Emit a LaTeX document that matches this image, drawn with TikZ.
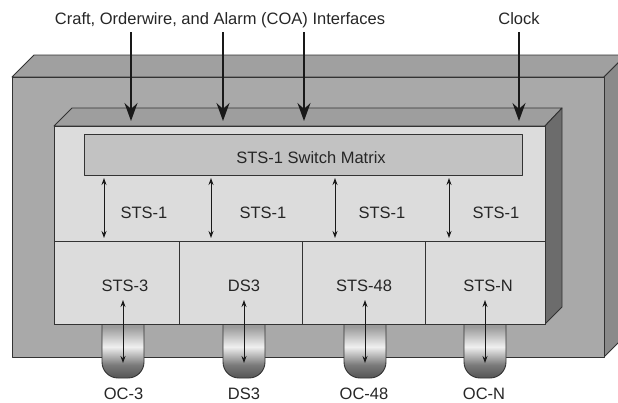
\documentclass[tikz,border=0pt]{standalone}
\usepackage{fontspec}
\setmainfont{Liberation Sans}
\usetikzlibrary{arrows.meta}
\definecolor{outerfront}{HTML}{A9A9A9}
\definecolor{outertop}{HTML}{A0A0A0}
\definecolor{outerside}{HTML}{8A8A8A}
\definecolor{innerfront}{HTML}{DCDCDC}
\definecolor{innertop}{HTML}{9E9E9E}
\definecolor{innerside}{HTML}{6C6C6C}
\definecolor{matrixfill}{HTML}{C2C2C2}
\definecolor{edge}{HTML}{333333}
\definecolor{cylA}{HTML}{555555}
\definecolor{cylB}{HTML}{7A7A7A}
\definecolor{cylC}{HTML}{F0F0F0}
\definecolor{cylD}{HTML}{9C9C9C}
\definecolor{cylE}{HTML}{8A8A8A}
\pgfdeclareverticalshading{cylshade}{100bp}{color(0bp)=(cylA); color(25bp)=(cylA); color(33bp)=(cylB); color(44bp)=(cylC); color(56bp)=(cylD); color(75bp)=(cylE); color(100bp)=(cylE)}
\begin{document}
\begin{tikzpicture}[x=1pt,y=-1pt,
  lbl/.style={font=\fontsize{16.5}{19}\selectfont, text=black!85, inner sep=0pt, anchor=base},
  face/.style={draw=edge, line width=0.9pt, line join=round},
  bigarrow/.style={draw=black!90, line width=1.4pt, -{Stealth[length=18pt,width=13pt,inset=6pt]}},
  smallarrow/.style={draw=black!90, line width=0.9pt, {Stealth[length=7pt,width=5pt]}-{Stealth[length=7pt,width=5pt]}},
  cellbox/.style={draw=edge, line width=0.9pt, fill=innerfront, minimum height=83pt, inner sep=0pt, anchor=north west},
  cylinder/.style={draw=edge, line width=0.9pt, shading=cylshade, rounded corners=16pt}]
\useasboundingbox (0,0) rectangle (618,402);
\clip (0,0) rectangle (618,402);
% outer box
\path[face, fill=outertop] (12,77) -- (34,55) -- (626,55) -- (604,77) -- cycle;
\path[face, fill=outerside] (604,77) -- (626,55) -- (626,335) -- (604,357) -- cycle;
\path[face, fill=outerfront] (12,77) rectangle (604,357);
% cylinders (connectors)
\foreach \c/\n in {123/1,244/2,365/3,485/4}{
  \path[cylinder] (\c-21,296) -- (\c-21,378) -- (\c+21,378) -- (\c+21,296) -- cycle;
}
% inner box
\path[face, fill=innertop] (54,126) -- (72,108) -- (562,108) -- (545,126) -- cycle;
\path[face, fill=innerside] (545,126) -- (562,108) -- (562,307) -- (545,324) -- cycle;
\node[face, fill=innerfront, minimum width=491pt, minimum height=115pt, inner sep=0pt, anchor=north west] (upper) at (54,126) {};
\node[face, fill=matrixfill, minimum width=438pt, minimum height=41pt, inner sep=0pt, anchor=north west] (swm) at (84,134) {};
\node[lbl] (swmlbl) at (311,163) {STS-1 Switch Matrix};
% cells
\node[cellbox, minimum width=125pt] (cell1) at (54,241) {};
\node[cellbox, minimum width=123pt] (cell2) at (179,241) {};
\node[cellbox, minimum width=123pt] (cell3) at (302,241) {};
\node[cellbox, minimum width=120pt] (cell4) at (425,241) {};
\node[lbl] (c1) at (125,291) {STS-3};
\node[lbl] (c2) at (244,291) {DS3};
\node[lbl] (c3) at (364,291) {STS-48};
\node[lbl] (c4) at (488,291) {STS-N};
% STS-1 labels
\node[lbl] (s1) at (144,218) {STS-1};
\node[lbl] (s2) at (263,218) {STS-1};
\node[lbl] (s3) at (382,218) {STS-1};
\node[lbl] (s4) at (496,218) {STS-1};
% bottom labels
\node[lbl] (o1) at (123.5,399) {OC-3};
\node[lbl] (o2) at (244,399) {DS3};
\node[lbl] (o3) at (364,399) {OC-48};
\node[lbl] (o4) at (484,399) {OC-N};
% top labels
\node[lbl] (coa) at (220,24) {Craft, Orderwire, and Alarm (COA) Interfaces};
\node[lbl] (clock) at (519,24) {Clock};
% big arrows
\foreach \x/\n in {131/1,223/2,304/3,519/4}{
  \coordinate (bs\n) at (\x,32);
  \coordinate (be\n) at (\x,121);
  \draw[bigarrow] (bs\n) -- (be\n);
}
% small STS-1 arrows
\foreach \x/\n in {104/1,211/2,335/3,449/4}{
  \coordinate (us\n) at (\x,178);
  \coordinate (ue\n) at (\x,238);
  \draw[smallarrow] (us\n) -- (ue\n);
}
% cell arrows
\foreach \x/\n in {123/1,244/2,365/3,485/4}{
  \coordinate (ls\n) at (\x,300);
  \coordinate (le\n) at (\x,363);
  \draw[smallarrow] (ls\n) -- (le\n);
}
\end{tikzpicture}
\end{document}
